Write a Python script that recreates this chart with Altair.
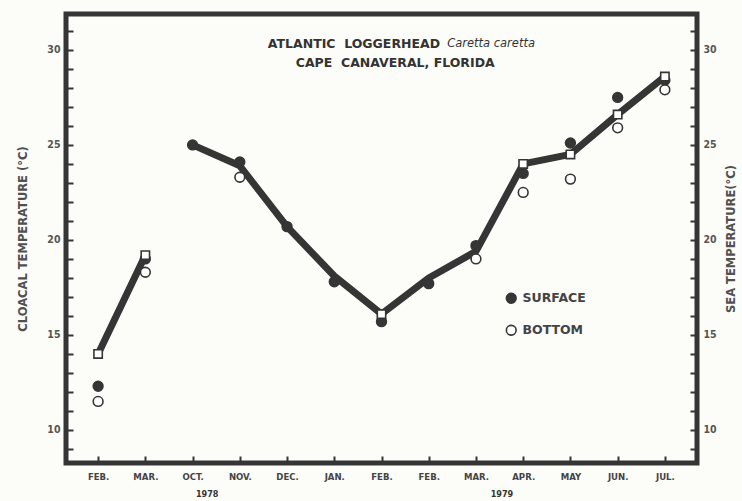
import json
import altair as alt
import pandas as pd

# Month sequence along the bottom axis (two sampling seasons)
months = ["FEB.", "MAR.", "OCT.", "NOV.", "DEC.", "JAN.", "FEB.",
          "FEB.", "MAR.", "APR.", "MAY", "JUN.", "JUL."]

# Cloacal temperature (thick line), split into two runs by the sampling gap
cloacal = [14.0, 19.2, 25.0, 23.9, 20.7, 18.1, 16.1, 18.0, 19.4, 24.0, 24.5, 26.6, 28.6]
cloacal_run = [1, 1, 2, 2, 2, 2, 2, 2, 2, 2, 2, 2, 2]
cloacal_marked = [True, True, False, False, False, False, True,
                  False, False, True, True, True, True]

# Sea temperatures
surface = [12.3, 19.0, 25.0, 24.1, 20.7, 17.8, 15.7, 17.7, 19.7, 23.5, 25.1, 27.5, 28.4]
bottom = [11.5, 18.3, None, 23.3, None, None, None, None, 19.0, 22.5, 23.2, 25.9, 27.9]
series_names = ["SURFACE", "BOTTOM"]

year_labels = ["1978", "1979"]
year_at = [2.31, 8.55]

INK = "#353535"
FONT = "DejaVu Sans Condensed, DejaVu Sans, sans-serif"
WIDE = "DejaVu Sans, sans-serif"
NBSP = "\u00a0"

idx = list(range(len(months)))
line_df = pd.DataFrame({"i": idx, "temp": cloacal, "run": cloacal_run, "marked": cloacal_marked})
square_df = line_df[line_df["marked"]]

rows = []
for i in idx:
    if surface[i] is not None:
        rows.append({"i": i, "temp": surface[i], "series": series_names[0]})
    if bottom[i] is not None:
        rows.append({"i": i, "temp": bottom[i], "series": series_names[1]})
sea_df = pd.DataFrame(rows)

x_scale = alt.Scale(domain=[-0.68, 12.68], nice=False, zero=False)
y_scale = alt.Scale(domain=[8.26, 31.89], nice=False, zero=False)

label_expr = json.dumps(months) + "[datum.value]"
x_axis = alt.Axis(values=idx, labelExpr=label_expr, title=None, domain=False,
                  offset=-7, tickSize=7, tickWidth=2, tickColor=INK,
                  labelPadding=8, labelFontSize=9.5, labelFontWeight="bold",
                  labelColor="#444", labelFont=FONT, grid=False)

def y_axis(orient, title, title_angle, title_pad):
    return alt.Axis(orient=orient, values=list(range(9, 32)),
                    labelExpr="datum.value % 5 == 0 ? datum.label : ''",
                    title=title, titleAngle=title_angle, domain=False, offset=-7,
                    tickSize=7, tickWidth=2, tickColor=INK, labelPadding=6,
                    labelFontSize=10.5, labelFontWeight="bold", labelColor="#555",
                    labelFont=FONT, titleFont=WIDE, titleFontSize=11.5,
                    titleFontWeight="bold", titleColor="#505050",
                    titlePadding=title_pad, grid=False)

X = alt.X("i:Q", scale=x_scale, axis=x_axis)

line = alt.Chart(line_df).mark_line(
    color=INK, strokeWidth=7, strokeCap="round", strokeJoin="round"
).encode(
    x=X,
    y=alt.Y("temp:Q", scale=y_scale,
            axis=y_axis("left", "CLOACAL TEMPERATURE (°C)", 270, 18)),
    detail="run:N",
)

sea = alt.Chart(sea_df).mark_point(
    shape="circle", size=95, stroke=INK, strokeWidth=1.6, opacity=1, fillOpacity=1
).encode(
    x=X,
    y=alt.Y("temp:Q", scale=y_scale,
            axis=y_axis("right", "SEA TEMPERATURE(°C)", 270, 20)),
    fill=alt.Fill("series:N",
                  scale=alt.Scale(domain=series_names, range=[INK, "#ffffff"]),
                  legend=alt.Legend(orient="none", legendX=439, legendY=278,
                                    title=None, padding=0, symbolType="circle",
                                    symbolSize=95, symbolStrokeColor=INK,
                                    symbolStrokeWidth=1.6, rowPadding=15,
                                    labelOffset=5, labelFontSize=12.5,
                                    labelFontWeight="bold", labelColor="#444",
                                    labelFont=WIDE)),
)

squares = alt.Chart(square_df).mark_square(
    size=70, fill="#ffffff", stroke=INK, strokeWidth=1.6, opacity=1
).encode(
    x=X,
    y=alt.Y("temp:Q", scale=y_scale, axis=None),
)

title_df = pd.DataFrame({
    "i": [7.24, 7.39, 6.29],
    "temp": [30.32, 30.32, 29.32],
    "text": ["ATLANTIC" + NBSP * 2 + "LOGGERHEAD", "Caretta caretta",
             "CAPE" + NBSP * 2 + "CANAVERAL, FLORIDA"],
})

def text_layer(df, font=FONT, **kw):
    return alt.Chart(df).mark_text(font=font, color="#333", **kw).encode(
        x=X,
        y=alt.Y("temp:Q", scale=y_scale, axis=None),
        text="text:N",
    )

title_bold = text_layer(title_df.iloc[[0]], font=WIDE, align="right",
                        fontSize=12.5, fontWeight="bold")
title_italic = text_layer(title_df.iloc[[1]], font=WIDE, align="left",
                          fontSize=11.5, fontStyle="italic")
title_line2 = text_layer(title_df.iloc[[2]], font=WIDE, align="center",
                         fontSize=12.5, fontWeight="bold")

year_df = pd.DataFrame({"i": year_at, "temp": [6.63, 6.63], "text": year_labels})
years = text_layer(year_df, align="center", fontSize=9, fontWeight="bold")

chart = alt.layer(
    line, sea, squares, title_bold, title_italic, title_line2, years
).resolve_axis(
    y="independent"
).properties(
    width=631, height=449,
    autosize=alt.AutoSizeParams(type="none"),
    padding={"left": 66, "top": 14, "right": 45, "bottom": 38},
    background="#fcfcf8",
).configure_view(
    stroke=INK, strokeWidth=5,
)

chart.save("out.html", embed_options={"renderer": "svg", "actions": False})
